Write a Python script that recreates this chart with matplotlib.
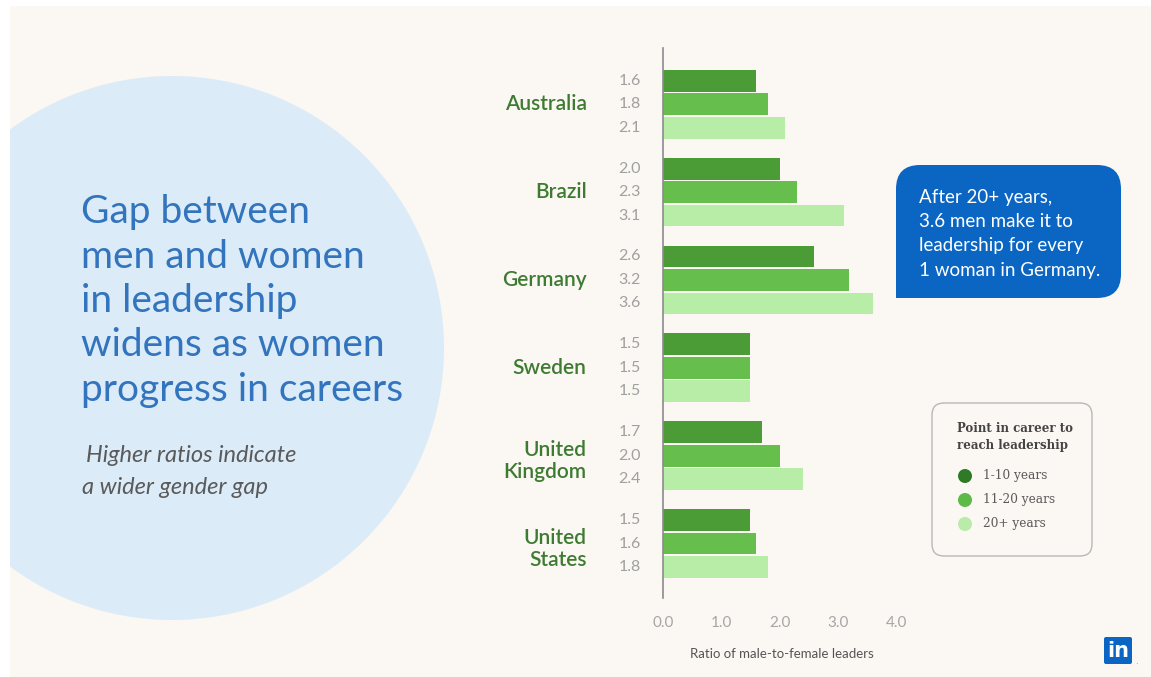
import matplotlib
matplotlib.use('Agg')
import matplotlib.pyplot as plt
from matplotlib.patches import Rectangle, Circle, FancyBboxPatch, PathPatch
from matplotlib.path import Path
import numpy as np

countries = ['Australia', 'Brazil', 'Germany', 'Sweden', 'United\nKingdom', 'United\nStates']
years_1_10 = [1.6, 2.0, 2.6, 1.5, 1.7, 1.5]
years_11_20 = [1.8, 2.3, 3.2, 1.5, 2.0, 1.6]
years_20_plus = [2.1, 3.1, 3.6, 1.5, 2.4, 1.8]
series_names = ['1-10 years', '11-20 years', '20+ years']
x_ticks = [0.0, 1.0, 2.0, 3.0, 4.0]

W, H = 1151, 677
CREAM = '#fbf7f2'
BLUE = '#0a66c2'
bar_colors = ['#4b9b36', '#66be4d', '#b7eda7']
dot_colors = ['#2f7a26', '#5db948', '#b9eca9']
country_green = '#3e7b32'
FONT = 'Lato'

fig = plt.figure(figsize=(W / 100, H / 100), dpi=100)
fig.patch.set_facecolor('white')

# background layer in pixel coordinates (y grows downwards)
bg = fig.add_axes([0, 0, 1, 1])
bg.set_xlim(0, W)
bg.set_ylim(H, 0)
bg.axis('off')

panel = Rectangle((10, 6), W - 10, H - 6, facecolor=CREAM, edgecolor='none')
bg.add_patch(panel)
blob = Circle((172, 348), 272, facecolor='#dcebf8', edgecolor='none')
bg.add_patch(blob)
blob.set_clip_path(panel)

title_lines = ['Gap between', 'men and women', 'in leadership',
               'widens as women', 'progress in careers']
for i, line in enumerate(title_lines):
    bg.text(81, 212 + i * 44.5, line, fontsize=28, color='#3274bd',
            family=FONT, va='center')
bg.text(86, 455, 'Higher ratios indicate', fontsize=17, color='#5a5a5a',
        family=FONT, style='italic', va='center')
bg.text(82, 488, 'a wider gender gap', fontsize=17, color='#5a5a5a',
        family=FONT, style='italic', va='center')

# bar chart
ax = fig.add_axes([663 / W, 1 - 598 / H, 233 / W, 550 / H])
ax.set_facecolor('none')
pos = np.arange(len(countries))
step = 0.267
for k, vals in enumerate([years_1_10, years_11_20, years_20_plus]):
    y = pos + (k - 1) * step
    ax.barh(y, vals, height=0.248, color=bar_colors[k], label=series_names[k])
    for yy, v in zip(y, vals):
        ax.text(-0.38, yy, f'{v:.1f}', ha='right', va='center', fontsize=11.5,
                color='#a0a0a0', family=FONT)

for p, name in zip(pos, countries):
    shift = 0.06 if '\n' in name else 0.0
    ax.text(-1.31, p + shift, name, ha='right', va='center', fontsize=15,
            color=country_green, family=FONT, weight='semibold', linespacing=1.15)

ax.set_xlim(0, 4.0)
ax.set_ylim(5.62, -0.64)
ax.set_yticks([])
ax.set_xticks(x_ticks)
ax.set_xticklabels([f'{t:.1f}' for t in x_ticks], fontsize=11,
                   color='#a6a6a6', family=FONT)
ax.tick_params(axis='x', length=0, pad=13)
for side in ['top', 'right', 'bottom']:
    ax.spines[side].set_visible(False)
ax.spines['left'].set_color('#8c8c8c')
ax.spines['left'].set_linewidth(1.2)

bg.text(782, 654, 'Ratio of male-to-female leaders', ha='center', va='center',
        fontsize=9.5, color='#555555', family=FONT)

# callout bubble: rounded corners except the bottom-left one
x0, x1, y0, y1, r = 896, 1121, 165, 298, 24
verts = [(x0, y1), (x0, y0 + r), (x0, y0), (x0 + r, y0),
         (x1 - r, y0), (x1, y0), (x1, y0 + r),
         (x1, y1 - r), (x1, y1), (x1 - r, y1),
         (x0, y1), (x0, y1)]
codes = [Path.MOVETO, Path.LINETO, Path.CURVE3, Path.CURVE3,
         Path.LINETO, Path.CURVE3, Path.CURVE3,
         Path.LINETO, Path.CURVE3, Path.CURVE3,
         Path.LINETO, Path.CLOSEPOLY]
bg.add_patch(PathPatch(Path(verts, codes), facecolor=BLUE, edgecolor='none'))
callout = ['After 20+ years,', '3.6 men make it to',
           'leadership for every', '1 woman in Germany.']
for i, line in enumerate(callout):
    bg.text(919, 197 + i * 24.5, line, fontsize=13.5, color='white',
            family=FONT, va='center')

# legend card
bg.add_patch(FancyBboxPatch((932, 403), 160, 153,
                            boxstyle='round,pad=0,rounding_size=12',
                            facecolor=CREAM, edgecolor='#b8b8b8', lw=1))
bg.text(957, 428, 'Point in career to', fontsize=8.5, color='#444444',
        family='DejaVu Serif', weight='bold', va='center')
bg.text(957, 446, 'reach leadership', fontsize=8.5, color='#444444',
        family='DejaVu Serif', weight='bold', va='center')
for i, name in enumerate(series_names):
    yy = 476 + i * 24
    bg.add_patch(Circle((965, yy), 7, facecolor=dot_colors[i], edgecolor='none'))
    bg.text(983, yy, name, fontsize=8.7, color='#5a5a5a',
            family='DejaVu Serif', va='center')

# logo
bg.add_patch(FancyBboxPatch((1104, 637), 28, 27,
                            boxstyle='round,pad=0,rounding_size=2',
                            facecolor=BLUE, edgecolor='none'))
bg.text(1118, 651, 'in', fontsize=15, color='white', family='DejaVu Sans',
        weight='bold', ha='center', va='center')
bg.text(1135, 662, '.', fontsize=6, color='#888888', va='center')

plt.savefig('out.png', dpi=100, facecolor=fig.get_facecolor())
plt.close()
